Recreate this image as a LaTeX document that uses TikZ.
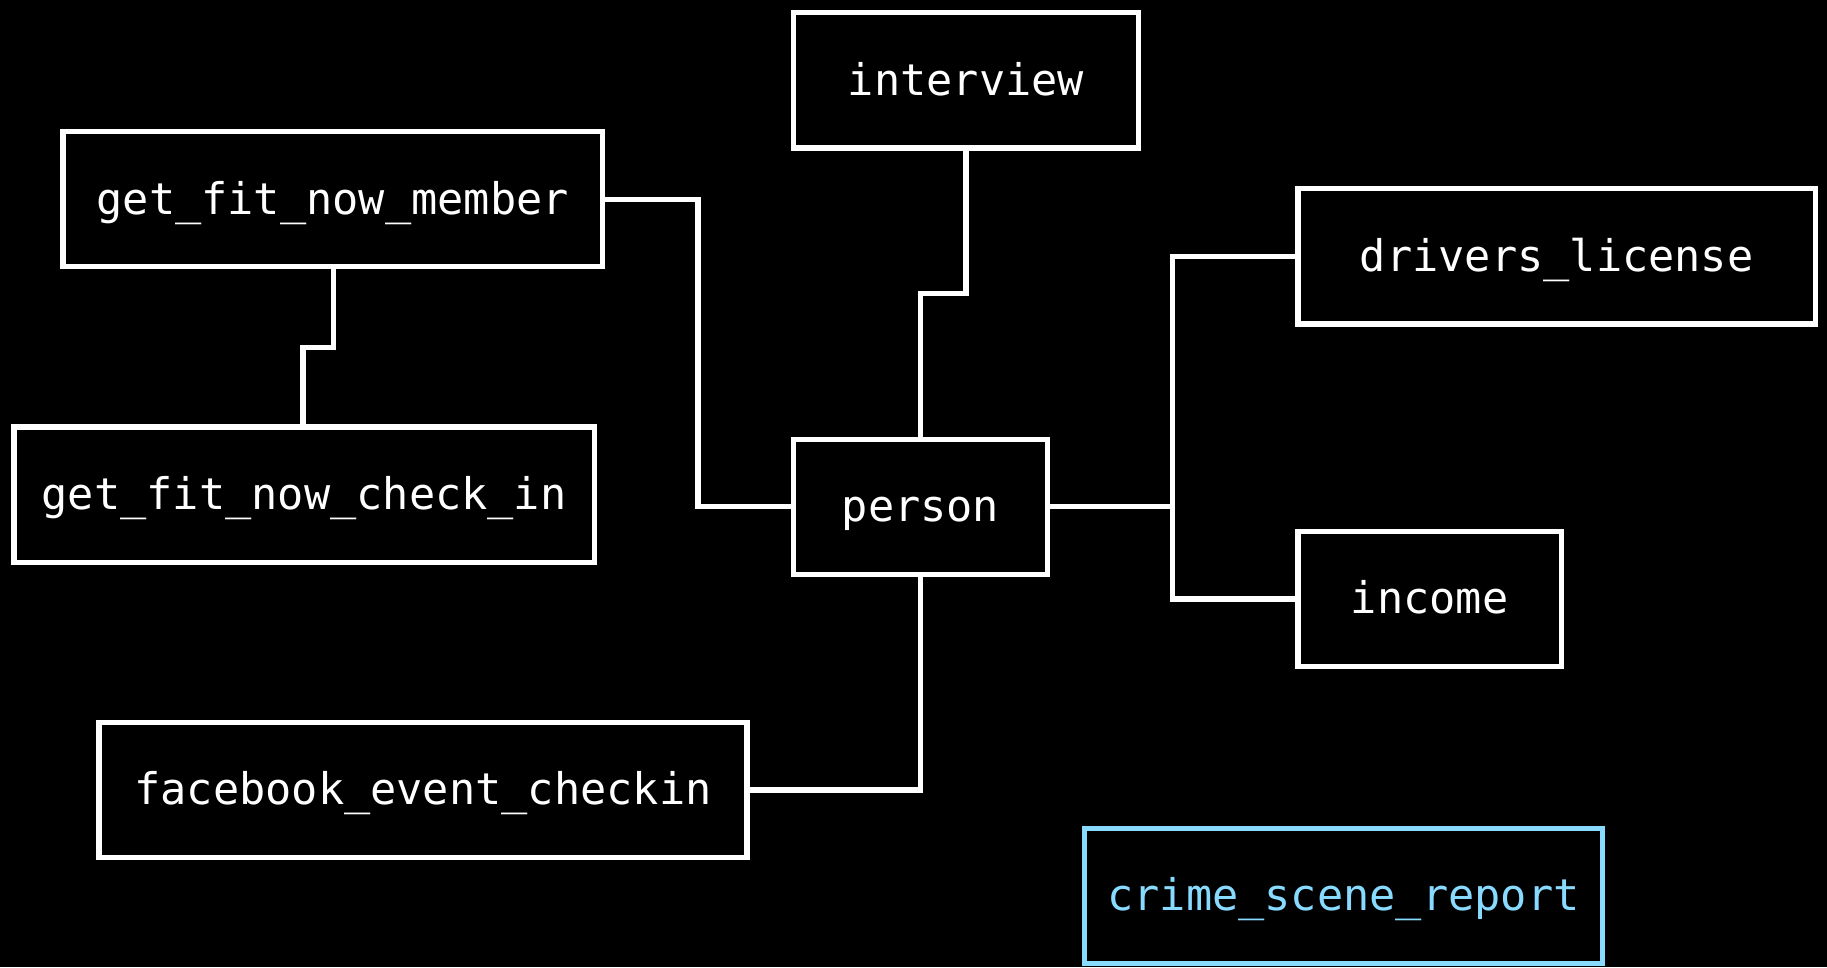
\documentclass[tikz,border=0pt]{standalone}
\usepackage{fontspec}
\setmonofont{DejaVu Sans Mono}
\definecolor{hl}{HTML}{88DBFF}
\begin{document}
\begin{tikzpicture}[x=1pt,y=-1pt,
  tbl/.style={draw=white, line width=4.5pt, fill=black, text=white, minimum height=116pt,
    inner sep=0pt, text height=30pt, text depth=4.6pt,
    font=\ttfamily\fontsize{37.4}{45}\selectfont},
  hltbl/.style={tbl, draw=hl, text=hl},
  link/.style={draw=white, line width=4.5pt, line cap=rect}]
\fill[black] (0,0) rectangle (1568,830);
\useasboundingbox (0,0) rectangle (1568,830);
\node[tbl, minimum width=296pt] (interview) at (829,69) {interview};
\node[tbl, minimum width=463pt] (member) at (285.5,171) {get\_fit\_now\_member};
\node[tbl, minimum width=444pt] (drivers) at (1336,220) {drivers\_license};
\node[tbl, minimum width=498pt] (checkin) at (261,424.5) {get\_fit\_now\_check\_in};
\node[tbl, minimum width=218pt] (person) at (790,435) {person};
\node[tbl, minimum width=226pt] (income) at (1227,514) {income};
\node[tbl, minimum width=556pt] (facebook) at (363,678) {facebook\_event\_checkin};
\node[hltbl, minimum width=444pt] (crime) at (1153,769) {crime\_scene\_report};
\coordinate (hub) at (1006,435);
\draw[link] (member.east |- 0,171) -- (599,171) -- (599,435) -- (person.west);
\draw[link] (member.south -| 286,0) -- (286,298) -- (260,298) -- (checkin.north -| 260,0);
\draw[link] (interview.south) -- (829,252) -- (790,252) -- (person.north);
\draw[link] (person.east) -- (hub);
\draw[link] (drivers.west) -- (1006,220) -- (1006,514) -- (income.west);
\draw[link] (person.south) -- (790,678) -- (facebook.east);
\end{tikzpicture}
\end{document}
